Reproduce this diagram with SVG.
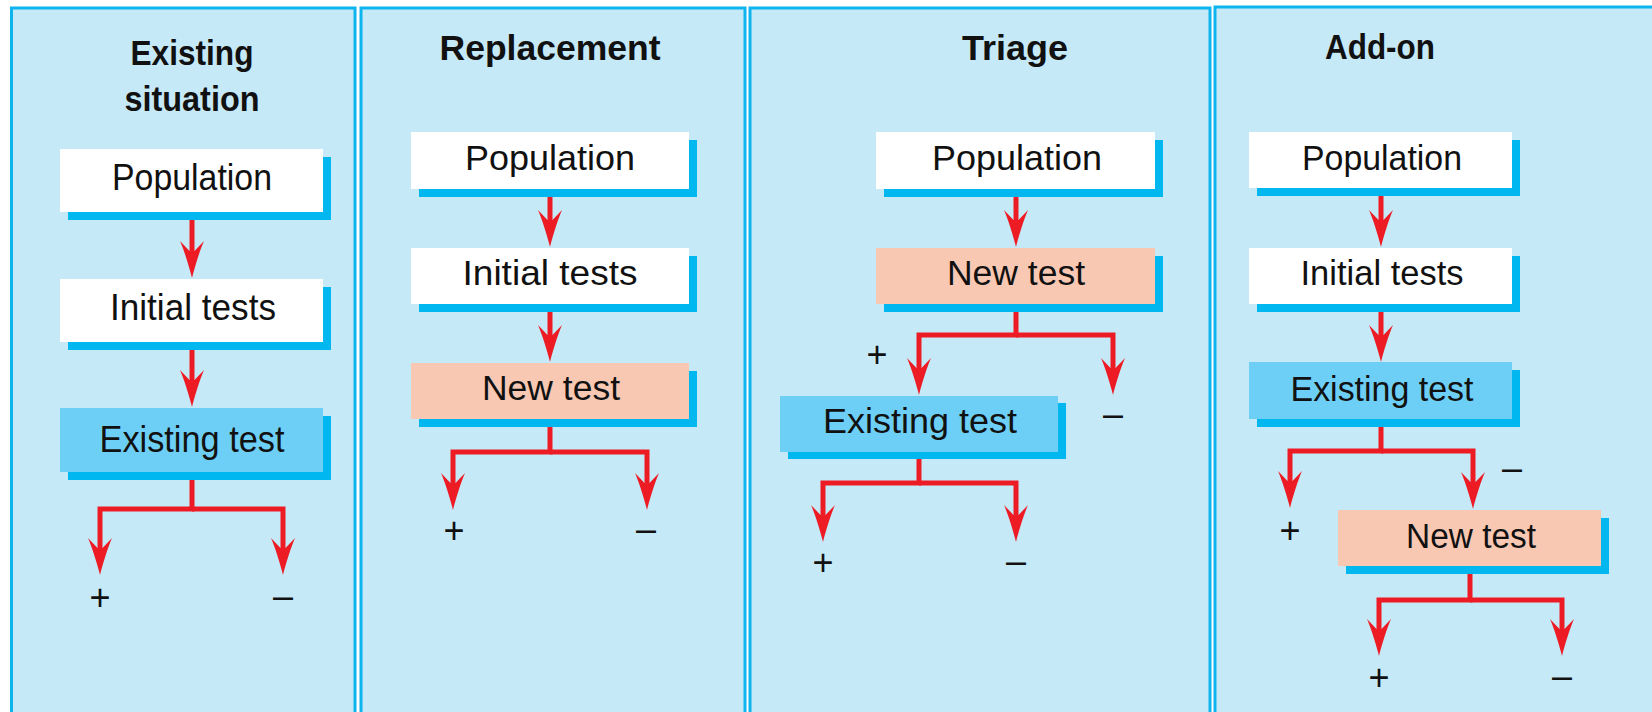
<svg xmlns="http://www.w3.org/2000/svg" width="1652" height="712" viewBox="0 0 1652 712">
  <style>
    .panel { fill: #c6e9f8; stroke: #0db4ee; stroke-width: 3; }
    .shadow { fill: #00b7f0; }
    .plain { fill: #ffffff; }
    .existing { fill: #6dcff5; }
    .newtest { fill: #f9c8b3; }
    .title { font-family: "Liberation Sans", Arial, sans-serif; font-weight: bold; font-size: 35px; fill: #111; text-anchor: middle; }
    .lbl { font-family: "Liberation Sans", Arial, sans-serif; fill: #111; text-anchor: middle; }
    .sign { font-family: "Liberation Sans", Arial, sans-serif; font-size: 36px; fill: #111; text-anchor: middle; }
    .flow { fill: none; stroke: #ed1c24; stroke-width: 5; stroke-linejoin: miter; }
  </style>
  <defs>
    <marker id="head" markerUnits="userSpaceOnUse" markerWidth="40" markerHeight="30" refX="0" refY="0" orient="auto" overflow="visible">
      <path d="M25,0 C13,-3 -3,-8 -12,-12 L-2,-2.5 L-2,2.5 L-12,12 C-3,8 13,3 25,0 Z" fill="#ed1c24"/>
    </marker>
  </defs>

  <!-- column backgrounds -->
  <g id="panels">
    <rect class="panel" x="11.5" y="8" width="343.5" height="720"/>
    <rect class="panel" x="361" y="8" width="384" height="720"/>
    <rect class="panel" x="750" y="8" width="460" height="720"/>
    <rect class="panel" x="1215" y="7" width="440" height="720"/>
  </g>

  <!-- column headings -->
  <g id="titles">
    <text class="title" x="192" y="65" textLength="123" lengthAdjust="spacingAndGlyphs">Existing</text>
    <text class="title" x="192" y="111" textLength="135" lengthAdjust="spacingAndGlyphs">situation</text>
    <text class="title" x="550" y="60" textLength="221" lengthAdjust="spacingAndGlyphs">Replacement</text>
    <text class="title" x="1015" y="60" textLength="106" lengthAdjust="spacingAndGlyphs">Triage</text>
    <text class="title" x="1380" y="59" textLength="110" lengthAdjust="spacingAndGlyphs">Add-on</text>
  </g>

  <!-- connectors -->
  <g id="connectors">
    <!-- existing situation -->
    <path class="flow" d="M192,212 V253" marker-end="url(#head)"/>
    <path class="flow" d="M192,342 V382" marker-end="url(#head)"/>
    <path class="flow" d="M192,472 V509 H100 V550" marker-end="url(#head)"/>
    <path class="flow" d="M192,509 H283 V550" marker-end="url(#head)"/>
    <!-- replacement -->
    <path class="flow" d="M550,189 V222" marker-end="url(#head)"/>
    <path class="flow" d="M550,304 V337" marker-end="url(#head)"/>
    <path class="flow" d="M550,419 V452 H453 V485" marker-end="url(#head)"/>
    <path class="flow" d="M550,452 H647 V485" marker-end="url(#head)"/>
    <!-- triage -->
    <path class="flow" d="M1016,189 V222" marker-end="url(#head)"/>
    <path class="flow" d="M1016,304 V335 H919 V370" marker-end="url(#head)"/>
    <path class="flow" d="M1016,335 H1113 V370" marker-end="url(#head)"/>
    <path class="flow" d="M919,452 V483 H823 V517" marker-end="url(#head)"/>
    <path class="flow" d="M919,483 H1016 V517" marker-end="url(#head)"/>
    <!-- add-on -->
    <path class="flow" d="M1381,188 V222" marker-end="url(#head)"/>
    <path class="flow" d="M1381,304 V337" marker-end="url(#head)"/>
    <path class="flow" d="M1381,419 V451 H1290 V483" marker-end="url(#head)"/>
    <path class="flow" d="M1381,451 H1473 V484" marker-end="url(#head)"/>
    <path class="flow" d="M1470,566 V600 H1379 V631" marker-end="url(#head)"/>
    <path class="flow" d="M1470,600 H1562 V631" marker-end="url(#head)"/>
  </g>

  <!-- existing situation column -->
  <g id="es-population">
    <rect class="shadow" x="68" y="157" width="263" height="63"/>
    <rect class="plain" x="60" y="149" width="263" height="63"/>
    <text class="lbl" x="192" y="190" font-size="36" textLength="160" lengthAdjust="spacingAndGlyphs">Population</text>
  </g>
  <g id="es-initial">
    <rect class="shadow" x="68" y="287" width="263" height="63"/>
    <rect class="plain" x="60" y="279" width="263" height="63"/>
    <text class="lbl" x="193" y="320" font-size="36" textLength="166" lengthAdjust="spacingAndGlyphs">Initial tests</text>
  </g>
  <g id="es-existing">
    <rect class="shadow" x="68" y="416" width="263" height="64"/>
    <rect class="existing" x="60" y="408" width="263" height="64"/>
    <text class="lbl" x="192" y="452" font-size="36" textLength="185" lengthAdjust="spacingAndGlyphs">Existing test</text>
  </g>

  <!-- replacement column -->
  <g id="rp-population">
    <rect class="shadow" x="419" y="140" width="278" height="57"/>
    <rect class="plain" x="411" y="132" width="278" height="57"/>
    <text class="lbl" x="550" y="170" font-size="35" textLength="170" lengthAdjust="spacingAndGlyphs">Population</text>
  </g>
  <g id="rp-initial">
    <rect class="shadow" x="419" y="256" width="278" height="56"/>
    <rect class="plain" x="411" y="248" width="278" height="56"/>
    <text class="lbl" x="550" y="285" font-size="35" textLength="175" lengthAdjust="spacingAndGlyphs">Initial tests</text>
  </g>
  <g id="rp-new">
    <rect class="shadow" x="419" y="371" width="278" height="56"/>
    <rect class="newtest" x="411" y="363" width="278" height="56"/>
    <text class="lbl" x="551" y="400" font-size="35" textLength="138" lengthAdjust="spacingAndGlyphs">New test</text>
  </g>

  <!-- triage column -->
  <g id="tr-population">
    <rect class="shadow" x="884" y="140" width="279" height="57"/>
    <rect class="plain" x="876" y="132" width="279" height="57"/>
    <text class="lbl" x="1017" y="170" font-size="35" textLength="170" lengthAdjust="spacingAndGlyphs">Population</text>
  </g>
  <g id="tr-new">
    <rect class="shadow" x="884" y="256" width="279" height="56"/>
    <rect class="newtest" x="876" y="248" width="279" height="56"/>
    <text class="lbl" x="1016" y="285" font-size="35" textLength="138" lengthAdjust="spacingAndGlyphs">New test</text>
  </g>
  <g id="tr-existing">
    <rect class="shadow" x="788" y="403" width="278" height="56"/>
    <rect class="existing" x="780" y="396" width="278" height="56"/>
    <text class="lbl" x="920" y="433" font-size="35" textLength="194" lengthAdjust="spacingAndGlyphs">Existing test</text>
  </g>

  <!-- add-on column -->
  <g id="ao-population">
    <rect class="shadow" x="1257" y="140" width="263" height="56"/>
    <rect class="plain" x="1249" y="132" width="263" height="56"/>
    <text class="lbl" x="1382" y="170" font-size="35" textLength="160" lengthAdjust="spacingAndGlyphs">Population</text>
  </g>
  <g id="ao-initial">
    <rect class="shadow" x="1257" y="256" width="263" height="56"/>
    <rect class="plain" x="1249" y="248" width="263" height="56"/>
    <text class="lbl" x="1382" y="285" font-size="35" textLength="163" lengthAdjust="spacingAndGlyphs">Initial tests</text>
  </g>
  <g id="ao-existing">
    <rect class="shadow" x="1257" y="370" width="263" height="57"/>
    <rect class="existing" x="1249" y="362" width="263" height="57"/>
    <text class="lbl" x="1382" y="401" font-size="35" textLength="183" lengthAdjust="spacingAndGlyphs">Existing test</text>
  </g>
  <g id="ao-new">
    <rect class="shadow" x="1346" y="518" width="263" height="56"/>
    <rect class="newtest" x="1338" y="510" width="263" height="56"/>
    <text class="lbl" x="1471" y="548" font-size="35" textLength="130" lengthAdjust="spacingAndGlyphs">New test</text>
  </g>

  <!-- outcome signs -->
  <g id="signs">
    <text class="sign" x="100" y="610">+</text>
    <text class="sign" x="283" y="608">–</text>
    <text class="sign" x="454" y="543">+</text>
    <text class="sign" x="646" y="541">–</text>
    <text class="sign" x="877" y="367">+</text>
    <text class="sign" x="1113" y="426">–</text>
    <text class="sign" x="823" y="575">+</text>
    <text class="sign" x="1016" y="573">–</text>
    <text class="sign" x="1512" y="480">–</text>
    <text class="sign" x="1290" y="543">+</text>
    <text class="sign" x="1379" y="690">+</text>
    <text class="sign" x="1562" y="688">–</text>
  </g>
</svg>
